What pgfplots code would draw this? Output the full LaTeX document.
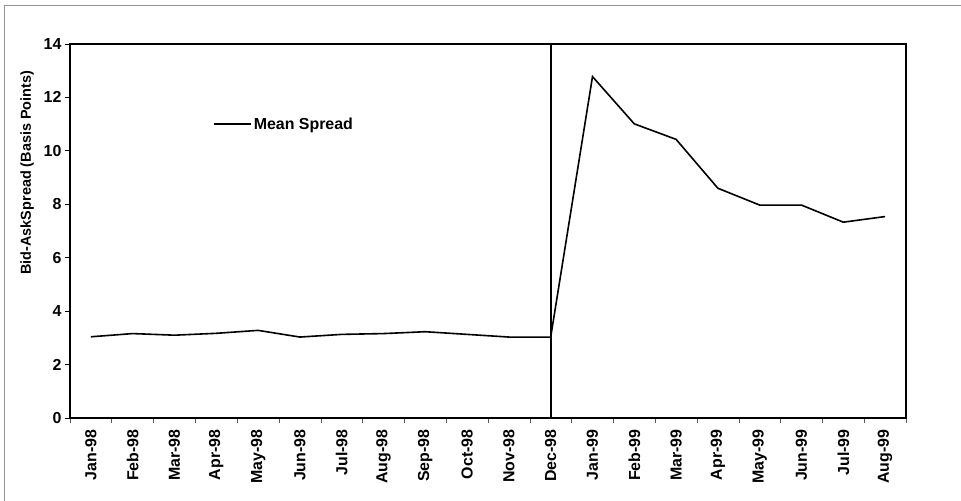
\documentclass[border=0pt]{standalone}
\usepackage{fontspec}
\setmainfont{Liberation Sans}
\usepackage{pgfplots}
\pgfplotsset{compat=1.18}
\begin{document}
\begin{tikzpicture}
\path[use as bounding box] (-70bp,-83bp) rectangle (891bp,418bp);
\fill[white] (-70bp,-83bp) rectangle (891bp,418bp);
\draw[gray!85, line width=1bp] (-65bp,-83bp) -- (-65bp,412bp) -- (891bp,412bp);
\begin{axis}[
  at={(0,0)}, anchor=south west,
  scale only axis, width=836bp, height=374bp,
  xmin=-0.5, xmax=19.5, ymin=0, ymax=14,
  axis line style={line width=1.6bp},
  xtick={0,...,19},
  xticklabels={Jan-98,Feb-98,Mar-98,Apr-98,May-98,Jun-98,Jul-98,Aug-98,Sep-98,Oct-98,Nov-98,Dec-98,Jan-99,Feb-99,Mar-99,Apr-99,May-99,Jun-99,Jul-99,Aug-99},
  major x tick style={draw=none},
  minor xtick={-0.5,0.5,...,19.5},
  minor tick length=5bp,
  minor x tick style={line width=0.6bp, gray!70!black},
  ytick={0,2,...,14},
  major tick length=5bp,
  y tick style={line width=0.8bp, black},
  tick align=outside,
  xtick pos=bottom, ytick pos=left,
  /pgf/number format/assume math mode=true,
  tick label style={font=\fontsize{16}{19}\selectfont\bfseries},
  xticklabel style={rotate=90, anchor=east},
  xticklabel shift=3bp,
  ylabel={Bid-AskSpread (Basis Points)},
  ylabel style={font=\fontsize{14.5}{17}\selectfont\bfseries, at={(axis description cs:-0.0514,0.656)}, anchor=center},
  legend style={draw=none, fill=none, at={(rel axis cs:0.171,0.786)}, anchor=west, inner sep=0pt,
    font=\fontsize{16}{19}\selectfont\bfseries},
  legend cell align=left,
  legend image code/.code={\draw[#1] (0bp,0bp) -- (37bp,0bp);},
]
\addplot[black, line width=1.6bp] coordinates {
(0,3.04) (1,3.16) (2,3.10) (3,3.17) (4,3.28) (5,3.03) (6,3.13) (7,3.16) (8,3.23) (9,3.13) (10,3.03) (11,3.03)
(12,12.78) (13,11.01) (14,10.43) (15,8.60) (16,7.97) (17,7.97) (18,7.33) (19,7.54)};
\addlegendentry{Mean Spread}
\addplot[black, line width=1.6bp, forget plot] coordinates {(11,0) (11,14)};
\end{axis}
\end{tikzpicture}
\end{document}
